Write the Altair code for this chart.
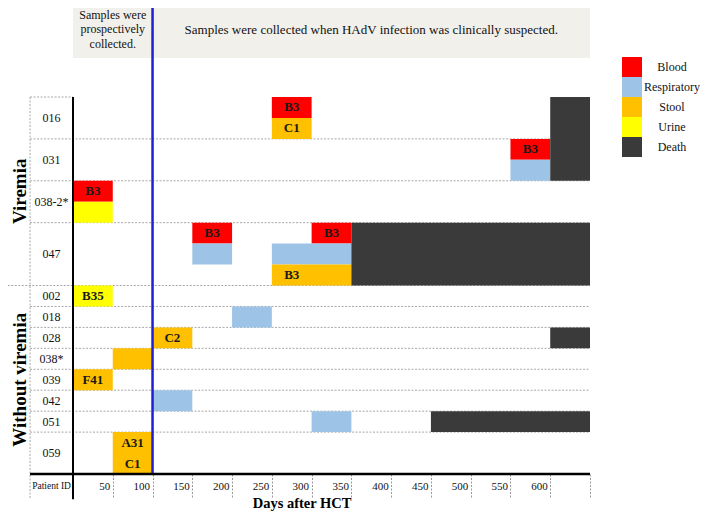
import altair as alt
import pandas as pd

FONT = "Liberation Serif"

# ---- rows (patients) ----
patient_ids = ["016", "031", "038-2", "047", "002", "018", "028", "038", "039", "042", "051", "059"]
id_labels = ["016", "031", "038-2*", "047", "002", "018", "028", "038*", "039", "042", "051", "059"]
row_units = [2, 2, 2, 3, 1, 1, 1, 1, 1, 1, 1, 2]
group_names = ["Viremia", "Without viremia"]
group_rows = [4, 8]

# ---- samples ----
sample_patient = ["016", "016", "031", "031", "038-2", "038-2", "047", "047", "047", "047", "047",
                  "002", "018", "028", "038", "039", "042", "051", "059", "059"]
sample_type = ["Blood", "Stool", "Blood", "Respiratory", "Blood", "Urine", "Blood", "Respiratory",
               "Blood", "Respiratory", "Stool", "Urine", "Respiratory", "Stool", "Stool", "Stool",
               "Respiratory", "Respiratory", "Stool", "Stool"]
sample_start = [250, 250, 550, 550, 0, 0, 150, 150, 300, 250, 250, 0, 200, 100, 50, 0, 100, 300, 50, 50]
sample_end = [300, 300, 600, 600, 50, 50, 200, 200, 350, 350, 350, 50, 250, 150, 100, 50, 150, 350, 100, 100]
sample_slot = [0, 1, 0, 1, 0, 1, 0, 1, 0, 1, 2, 0, 0, 0, 0, 0, 0, 0, 0, 1]
sample_label = ["B3", "C1", "B3", "", "B3", "", "B3", "", "B3", "", "B3", "B35", "", "C2", "", "F41",
                "", "", "A31", "C1"]

# ---- deaths ----
death_patient = ["016", "031", "047", "028", "051"]
death_start = [600, 600, 350, 600, 450]
death_end = [650, 650, 650, 650, 650]

# ---- legend / colours ----
type_names = ["Blood", "Respiratory", "Stool", "Urine", "Death"]
type_colors = ["#ff0000", "#9dc3e6", "#ffc000", "#ffff00", "#3a3a3a"]

# ---- axis ----
day_ticks = [50, 100, 150, 200, 250, 300, 350, 400, 450, 500, 550, 600, 650]
day_max = 650
id_col_start = -54
period_split = 100

header_left = ["Samples were", "prospectively", "collected."]
header_right = "Samples were collected when HAdV infection was clinically suspected."

# ---------------- build tables ----------------
tops = {}
acc = 0
for pid_, u in zip(patient_ids, row_units):
    tops[pid_] = acc
    acc += u
total_units = acc

rows = []
for pid_, lab, u in zip(patient_ids, id_labels, row_units):
    rows.append({"label": lab, "ymid": tops[pid_] + u / 2, "x": id_col_start / 2})
rows_df = pd.DataFrame(rows)

rects = []
for p, t, s, e, sl, lab in zip(sample_patient, sample_type, sample_start, sample_end, sample_slot, sample_label):
    y0 = tops[p] + sl
    rects.append({"type": t, "x0": s, "x1": e, "y0": y0, "y1": y0 + 1, "label": lab,
                  "lx": s + 25, "ly": y0 + 0.5})
for p, s, e in zip(death_patient, death_start, death_end):
    u = row_units[patient_ids.index(p)]
    rects.append({"type": "Death", "x0": s, "x1": e, "y0": tops[p], "y1": tops[p] + u, "label": "",
                  "lx": s, "ly": tops[p]})
rect_df = pd.DataFrame(rects)
lab_df = rect_df[rect_df["label"] != ""].reset_index(drop=True)

seps = [{"x0": id_col_start, "x1": 0, "y": 0}]
acc = 0
vir_end = sum(row_units[:group_rows[0]])
for u in row_units[:-1]:
    acc += u
    seps.append({"x0": -82 if acc == vir_end else id_col_start, "x1": day_max, "y": acc})
sep_df = pd.DataFrame(seps)

groups = []
start = 0
idx = 0
for g, n in zip(group_names, group_rows):
    u = sum(row_units[idx: idx + n])
    groups.append({"g": g, "y": start + u / 2, "x": -67})
    start += u
    idx += n
grp_df = pd.DataFrame(groups)

x_scale = alt.Scale(domain=[0, day_max], nice=False, zero=False)
y_scale = alt.Scale(domain=[0, total_units], reverse=True, nice=False, zero=False)
x_axis = alt.Axis(values=day_ticks, labelExpr="datum.value > 600 ? '' : datum.label",
                  labelAlign="right", labelOffset=-3, labelPadding=-18, tickSize=24,
                  tickDash=[2, 1.5], tickColor="#999", tickWidth=1, domain=False, grid=False,
                  title=None, labelFont=FONT, labelFontSize=11, labelColor="#111",
                  labelBaseline="top", labelFlush=False, labelOverlap=False)


def X(f):
    return alt.X(f, type="quantitative", scale=x_scale, axis=x_axis, title=None)


def Y(f):
    return alt.Y(f, type="quantitative", scale=y_scale, axis=None, title=None)


head_df = pd.DataFrame([{"x0": 0, "x1": day_max, "y0": -4.25, "y1": -1.86}])
header = alt.Chart(head_df).mark_rect(color="#f2f0eb").encode(
    x=X("x0"), x2="x1:Q", y=Y("y0"), y2="y1:Q")

htext_df = pd.DataFrame([{"t": s, "x": period_split / 2, "y": -3.92 + i * 0.69}
                         for i, s in enumerate(header_left)])
htext = alt.Chart(htext_df).mark_text(font=FONT, fontSize=12, color="#111", align="center",
                                      baseline="middle").encode(
    x=X("x"), y=Y("y"), text="t:N")
htext2_df = pd.DataFrame([{"t": header_right, "x": (period_split + day_max) / 2, "y": -3.22}])
htext2 = alt.Chart(htext2_df).mark_text(font=FONT, fontSize=13, color="#111", align="center",
                                        baseline="middle").encode(
    x=X("x"), y=Y("y"), text="t:N")

seps_layer = alt.Chart(sep_df).mark_rule(color="#a8a8a8", strokeDash=[2, 1.5], strokeWidth=1).encode(
    x=X("x0"), x2="x1:Q", y=Y("y"))

bars = alt.Chart(rect_df).mark_rect().encode(
    x=X("x0"), x2="x1:Q", y=Y("y0"), y2="y1:Q",
    color=alt.Color("type:N", scale=alt.Scale(domain=type_names, range=type_colors),
                    legend=alt.Legend(title=None, orient="none", legendX=549, legendY=-40,
                                      symbolType="square", symbolSize=400, symbolStrokeWidth=0,
                                      symbolOpacity=1, rowPadding=0, labelFont=FONT,
                                      labelFontSize=12, labelAlign="center", labelOffset=30,
                                      labelColor="#111", padding=0, labelLimit=200)))

labels = alt.Chart(lab_df).mark_text(font=FONT, fontSize=13, fontWeight="bold", color="#1a1a1a",
                                     align="center", baseline="middle").encode(
    x=X("lx"), y=Y("ly"), text="label:N")

vl_df = pd.DataFrame([{"x": period_split, "y0": -4.25, "y1": total_units}])
blue = alt.Chart(vl_df).mark_rule(color="#1f1fd6", strokeWidth=2.5).encode(
    x=X("x"), y=Y("y0"), y2="y1:Q")

black_v_df = pd.DataFrame([{"x": 0, "y0": 0, "y1": total_units + 1.2}])
black_v = alt.Chart(black_v_df).mark_rule(color="black", strokeWidth=2).encode(
    x=X("x"), y=Y("y0"), y2="y1:Q")

left_v_df = pd.DataFrame([{"x": id_col_start, "y0": 0, "y1": total_units + 1.2}])
left_v = alt.Chart(left_v_df).mark_rule(color="#a8a8a8", strokeDash=[2, 1.5], strokeWidth=1).encode(
    x=X("x"), y=Y("y0"), y2="y1:Q")

axis_df = pd.DataFrame([{"x0": id_col_start, "x1": day_max, "y": total_units}])
axis_line = alt.Chart(axis_df).mark_rule(color="black", strokeWidth=2.5).encode(
    x=X("x0"), x2="x1:Q", y=Y("y"))

ids = alt.Chart(rows_df).mark_text(font=FONT, fontSize=12, color="#111", align="center",
                                   baseline="middle").encode(
    x=X("x"), y=Y("ymid"), text="label:N")

grp = alt.Chart(grp_df).mark_text(font=FONT, fontSize=19, fontWeight="bold", color="black",
                                  angle=270, align="center", baseline="middle").encode(
    x=X("x"), y=Y("y"), text="g:N")

pid_df = pd.DataFrame([{"t": "Patient ID", "x": id_col_start / 2, "y": total_units + 0.57}])
pid = alt.Chart(pid_df).mark_text(font=FONT, fontSize=9.5, color="#111", align="center",
                                  baseline="middle").encode(
    x=X("x"), y=Y("y"), text="t:N")

title_df = pd.DataFrame([{"t": "Days after HCT", "x": 288, "y": total_units + 1.44}])
title = alt.Chart(title_df).mark_text(font=FONT, fontSize=14.5, fontWeight="bold", color="black",
                                      align="center", baseline="middle").encode(
    x=X("x"), y=Y("y"), text="t:N")

chart = alt.layer(header, htext, htext2, seps_layer, bars, labels, blue, black_v, left_v, axis_line,
                  ids, grp, pid, title).properties(
    width=517, height=377,
    autosize=alt.AutoSizeParams(type="none"),
    padding={"left": 65, "top": 89, "right": 111, "bottom": 38},
    background="white",
).configure_view(stroke=None)

chart.save("out.html", embed_options={"renderer": "svg", "actions": False})
